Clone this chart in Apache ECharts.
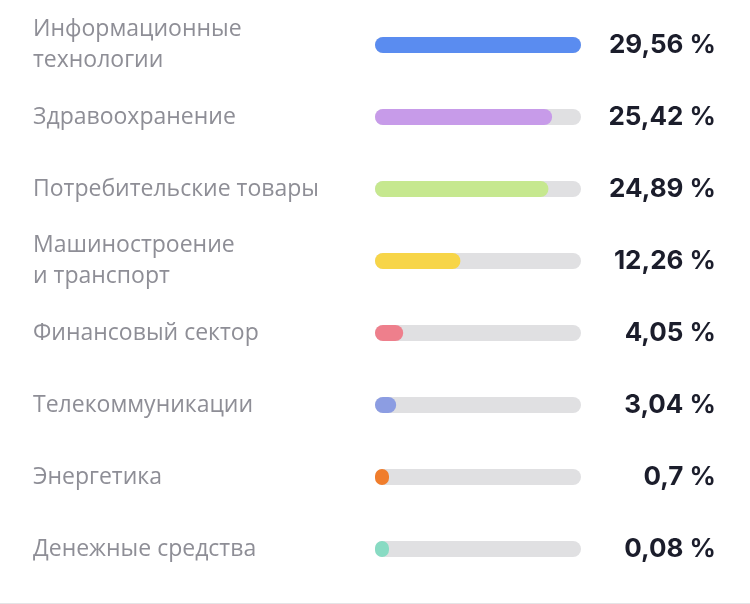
<!DOCTYPE html>
<html>
<head>
<meta charset="utf-8">
<script src="https://cdn.jsdelivr.net/npm/echarts@6/dist/echarts.min.js"></script>
<style>
  html, body { margin: 0; padding: 0; background: #fff; }
  #chart { width: 750px; height: 604px; border-bottom: 1px solid #e4e4e6; box-sizing: border-box; }
</style>
</head>
<body>
<div id="chart"></div>
<script>
const sectors = [
    'Информационные\nтехнологии',
    'Здравоохранение',
    'Потребительские товары',
    'Машиностроение\nи транспорт',
    'Финансовый сектор',
    'Телекоммуникации',
    'Энергетика',
    'Денежные средства'
];
const shares = [29.56, 25.42, 24.89, 12.26, 4.05, 3.04, 0.7, 0.08];
const shareLabels = ['29,56 %', '25,42 %', '24,89 %', '12,26 %', '4,05 %', '3,04 %', '0,7 %', '0,08 %'];
const colors = ['#5a8cf0', '#c79be9', '#c6e88f', '#f7d548', '#ee7f8c', '#8c9de2', '#f07d2c', '#88dbc3'];

const chart = echarts.init(document.getElementById('chart'));
chart.setOption({
    animation: false,
    grid: { left: 375, right: 169, top: 9, height: 576 },
    xAxis: { type: 'value', min: 0, max: shares[0], show: false },
    yAxis: [
        {
            type: 'category',
            inverse: true,
            data: sectors,
            axisLine: { show: false },
            axisTick: { show: false },
            axisLabel: {
                margin: 342,
                align: 'left',
                color: '#8e8e96',
                fontSize: 23,
                lineHeight: 31,
                fontFamily: '"Open Sans", sans-serif'
            }
        },
        {
            type: 'category',
            inverse: true,
            position: 'right',
            data: shareLabels,
            axisLine: { show: false },
            axisTick: { show: false },
            axisLabel: {
                margin: 135,
                align: 'right',
                color: '#1b1d2b',
                fontSize: 26,
                fontWeight: 'bold',
                fontFamily: 'Inter, "Noto Sans", sans-serif'
            }
        }
    ],
    series: [{
        type: 'bar',
        data: shares.map((v, i) => ({ value: v, itemStyle: { color: colors[i] } })),
        barWidth: 16,
        barMinHeight: 14,
        showBackground: true,
        backgroundStyle: { color: '#e0e0e2', borderRadius: 8 },
        itemStyle: { borderRadius: 8 }
    }]
});
</script>
</body>
</html>
